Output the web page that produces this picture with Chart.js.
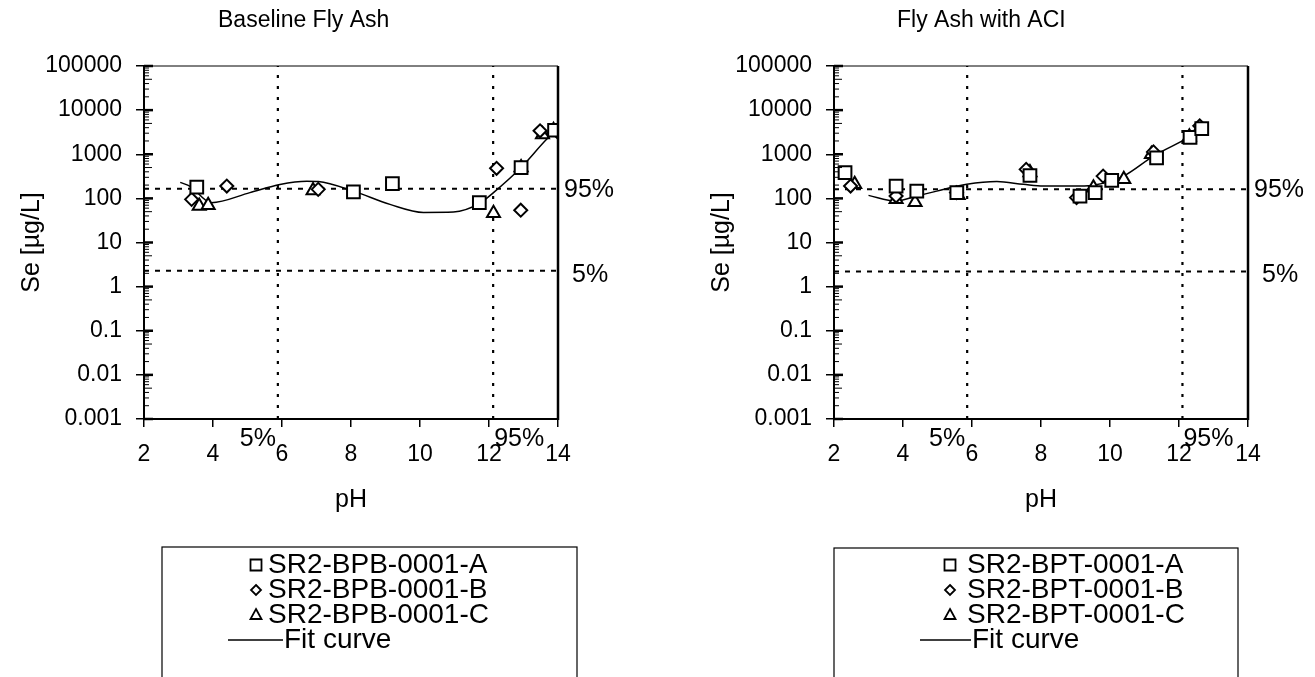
<!DOCTYPE html>
<html>
<head>
<meta charset="utf-8">
<script src="https://cdn.jsdelivr.net/npm/chart.js@4.4.1/dist/chart.umd.min.js"></script>
<style>
  body { margin: 0; background: #fff; width: 1315px; height: 677px; overflow: hidden; position: relative; }
  canvas { position: absolute; top: 0; }
  #left { left: 0; }
  #right { left: 660px; }
</style>
</head>
<body>
<canvas id="left" width="660" height="677"></canvas>
<canvas id="right" width="655" height="677"></canvas>
<script>
const FONT = '"Liberation Sans", Arial, sans-serif';

// axis ticks
const xTicks = [2, 4, 6, 8, 10, 12, 14];
const yTicks = [0.001, 0.01, 0.1, 1, 10, 100, 1000, 10000, 100000];
const yTickLabels = ['0.001', '0.01', '0.1', '1', '10', '100', '1000', '10000', '100000'];

// Baseline Fly Ash
const baseNames = ['SR2-BPB-0001-A', 'SR2-BPB-0001-B', 'SR2-BPB-0001-C'];
const basePhA = [3.53, 8.07, 9.2, 11.72, 12.93, 13.9];
const baseSeA = [180, 140, 215, 80, 500, 3500];
const basePhB = [3.38, 4.4, 7.05, 12.22, 12.92, 13.48, 13.97];
const baseSeB = [95, 190, 160, 480, 54, 3400, 3300];
const basePhC = [3.6, 3.86, 6.9, 12.13, 12.93, 13.55, 13.87];
const baseSeC = [67, 70, 150, 46, 500, 2800, 3500];
const baseFitPh = [3.05, 3.35, 3.95, 5.07, 5.94, 6.72, 7.05, 8.07, 9.13, 10.1, 10.97, 11.74, 12.13, 12.93, 13.67, 13.9];
const baseFitSe = [230, 185, 80, 135, 207, 245, 240, 146, 73, 48, 49, 78, 135, 500, 2180, 3200];
const basePctPh = [5.88, 12.12];   // 5%, 95%
const basePctSe = [2.3, 166];      // 5%, 95%

// Fly Ash with ACI
const aciNames = ['SR2-BPT-0001-A', 'SR2-BPT-0001-B', 'SR2-BPT-0001-C'];
const aciPhA = [2.32, 3.8, 4.4, 5.56, 7.68, 9.13, 9.57, 10.05, 11.35, 12.32, 12.66];
const aciSeA = [385, 190, 146, 135, 330, 113, 135, 255, 830, 2400, 3800];
const aciPhB = [2.48, 3.8, 5.55, 7.57, 9.03, 9.8, 11.26, 12.6];
const aciSeB = [190, 113, 135, 455, 104, 320, 1130, 4400];
const aciPhC = [2.6, 3.8, 4.35, 5.6, 7.68, 9.52, 10.4, 11.2, 12.3, 12.6];
const aciSeC = [208, 95, 82, 117, 385, 175, 270, 1000, 2500, 3800];
const aciFitPh = [3.0, 3.8, 4.4, 4.98, 5.85, 6.72, 7.49, 8.07, 9.13, 9.55, 10.39, 11.26, 12.32, 12.6];
const aciFitSe = [117, 87, 113, 146, 208, 240, 208, 190, 190, 200, 320, 910, 2500, 3500];
const aciPctPh = [5.86, 12.1];
const aciPctSe = [2.2, 160];

const toPoints = (xs, ys) => xs.map((x, i) => ({ x: x, y: ys[i] }));

function markerSet(xs, ys, style, radius) {
    return {
        data: toPoints(xs, ys),
        showLine: false,
        pointStyle: style,
        pointRadius: radius,
        pointBorderWidth: 2,
        pointBorderColor: '#000',
        pointBackgroundColor: '#fff',
        order: 1
    };
}

function lineSet(points, dash, width, smooth) {
    return {
        data: points,
        showLine: true,
        borderColor: '#000',
        borderWidth: width,
        borderDash: dash,
        pointRadius: 0,
        cubicInterpolationMode: smooth ? 'monotone' : 'default',
        order: 5
    };
}

function drawMarker(ctx, style, x, y) {
    ctx.beginPath();
    if (style === 'rect') {
        ctx.rect(x - 5.5, y - 5.5, 11, 11);
    } else if (style === 'rectRot') {
        ctx.moveTo(x, y - 5); ctx.lineTo(x + 5, y); ctx.lineTo(x, y + 5); ctx.lineTo(x - 5, y); ctx.closePath();
    } else {
        ctx.moveTo(x, y - 6); ctx.lineTo(x + 5.5, y + 4); ctx.lineTo(x - 5.5, y + 4); ctx.closePath();
    }
    ctx.stroke();
}

function extrasPlugin(cfg) {
    return {
        id: 'extras',
        afterDraw(chart) {
            const ctx = chart.ctx;
            const a = chart.chartArea;
            const x = chart.scales.x;
            const y = chart.scales.y;
            ctx.save();
            ctx.strokeStyle = '#000';
            ctx.fillStyle = '#000';

            // frame top and right
            ctx.lineWidth = 1;
            ctx.beginPath(); ctx.moveTo(a.left, a.top); ctx.lineTo(a.right, a.top); ctx.stroke();
            ctx.lineWidth = 2.5;
            ctx.beginPath(); ctx.moveTo(a.right, a.top); ctx.lineTo(a.right, a.bottom + 1); ctx.stroke();

            // minor ticks on the log axis
            yTicks.forEach((v, i) => {
                let py = y.getPixelForValue(v);
                ctx.lineWidth = 2.5;
                ctx.beginPath(); ctx.moveTo(a.left, py); ctx.lineTo(a.left + 9, py); ctx.stroke();
                if (i === yTicks.length - 1) return;
                ctx.lineWidth = 1;
                for (let k = 2; k <= 9; k++) {
                    py = y.getPixelForValue(v * k);
                    ctx.beginPath(); ctx.moveTo(a.left, py); ctx.lineTo(a.left + (k === 5 ? 8 : 5), py); ctx.stroke();
                }
            });

            // percentile labels
            ctx.font = '25px ' + FONT;
            ctx.textBaseline = 'middle';
            ctx.textAlign = 'left';
            ctx.fillText('95%', a.right + 6, y.getPixelForValue(cfg.pctSe[1]) + 1);
            ctx.fillText('5%', a.right + 14, y.getPixelForValue(cfg.pctSe[0]) + 4);
            ctx.textAlign = 'right';
            ctx.fillText('5%', x.getPixelForValue(cfg.pctPh[0]) - 2, a.bottom + 20);
            ctx.textAlign = 'left';
            ctx.fillText('95%', x.getPixelForValue(cfg.pctPh[1]) + 1, a.bottom + 20);

            // panel title
            ctx.font = '23px ' + FONT;
            ctx.fillText(cfg.title, cfg.titleX, 21);

            // legend box
            const lg = cfg.legend;
            ctx.lineWidth = 1.2;
            ctx.strokeRect(lg.left, lg.top, lg.right - lg.left, 200);
            ctx.font = '28px ' + FONT;
            const styles = ['rect', 'rectRot', 'triangle'];
            const rows = [565, 590, 615, 640];
            ctx.lineWidth = 1.8;
            styles.forEach((s, i) => {
                drawMarker(ctx, s, lg.markerX, rows[i]);
                ctx.fillText(cfg.names[i], lg.textX, rows[i]);
            });
            ctx.lineWidth = 1.5;
            ctx.beginPath(); ctx.moveTo(lg.lineX0, rows[3]); ctx.lineTo(lg.lineX1, rows[3]); ctx.stroke();
            ctx.fillText('Fit curve', lg.lineX1 + 1, rows[3]);
            ctx.restore();
        }
    };
}

function makePanel(id, cfg) {
    const datasets = [
        markerSet(cfg.phA, cfg.seA, 'rect', 9),
        markerSet(cfg.phB, cfg.seB, 'rectRot', 6.5),
        markerSet(cfg.phC, cfg.seC, 'triangle', 7.5),
        lineSet(toPoints(cfg.fitPh, cfg.fitSe), [], 1.5, true),
        lineSet([{ x: cfg.pctPh[0], y: yTicks[0] }, { x: cfg.pctPh[0], y: yTicks[8] }], [3, 8], 2.2, false),
        lineSet([{ x: cfg.pctPh[1], y: yTicks[0] }, { x: cfg.pctPh[1], y: yTicks[8] }], [3, 8], 2.2, false),
        lineSet([{ x: xTicks[0], y: cfg.pctSe[0] }, { x: xTicks[6], y: cfg.pctSe[0] }], [5, 6], 2, false),
        lineSet([{ x: xTicks[0], y: cfg.pctSe[1] }, { x: xTicks[6], y: cfg.pctSe[1] }], [5, 6], 2, false)
    ];

    return new Chart(document.getElementById(id), {
        type: 'scatter',
        data: { datasets: datasets },
        options: {
            responsive: false,
            animation: false,
            layout: { padding: { left: cfg.padLeft, right: cfg.padRight, top: 66, bottom: 158 } },
            plugins: { legend: { display: false }, tooltip: { enabled: false } },
            scales: {
                x: {
                    type: 'linear',
                    min: 2,
                    max: 14,
                    afterBuildTicks: (s) => { s.ticks = xTicks.map(v => ({ value: v })); },
                    afterFit: (s) => { s.height = 100; },
                    ticks: { color: '#000', font: { family: FONT, size: 23 }, padding: 14 },
                    grid: { drawOnChartArea: false, tickLength: 8, color: '#000', lineWidth: 1.5 },
                    border: { color: '#000', width: 2 },
                    title: { display: true, text: 'pH', color: '#000', font: { family: FONT, size: 25 } }
                },
                y: {
                    type: 'logarithmic',
                    min: 0.001,
                    max: 100000,
                    afterBuildTicks: (s) => { s.ticks = yTicks.map(v => ({ value: v })); },
                    afterFit: (s) => { s.width = cfg.yWidth; },
                    ticks: {
                        color: '#000',
                        autoSkip: false,
                        font: { family: FONT, size: 23 },
                        padding: 14,
                        callback: (v, i) => yTickLabels[i]
                    },
                    grid: { drawOnChartArea: false, tickLength: 8, color: '#000', lineWidth: 1.5 },
                    border: { color: '#000', width: 2 },
                    title: { display: true, text: 'Se [µg/L]', color: '#000', font: { family: FONT, size: 25 } }
                }
            }
        },
        plugins: [extrasPlugin(cfg)]
    });
}

makePanel('left', {
    title: 'Baseline Fly Ash', titleX: 218,
    names: baseNames,
    phA: basePhA, seA: baseSeA, phB: basePhB, seB: baseSeB, phC: basePhC, seC: baseSeC,
    fitPh: baseFitPh, fitSe: baseFitSe, pctPh: basePctPh, pctSe: basePctSe,
    padLeft: 13, yWidth: 131, padRight: 102,
    legend: { left: 162, top: 547, right: 577, markerX: 256, textX: 268, lineX0: 228, lineX1: 283 }
});

makePanel('right', {
    title: 'Fly Ash with ACI', titleX: 237,
    names: aciNames,
    phA: aciPhA, seA: aciSeA, phB: aciPhB, seB: aciSeB, phC: aciPhC, seC: aciSeC,
    fitPh: aciFitPh, fitSe: aciFitSe, pctPh: aciPctPh, pctSe: aciPctSe,
    padLeft: 43, yWidth: 131, padRight: 67,
    legend: { left: 174, top: 548, right: 578, markerX: 290, textX: 307, lineX0: 260, lineX1: 311 }
});
</script>
</body>
</html>
